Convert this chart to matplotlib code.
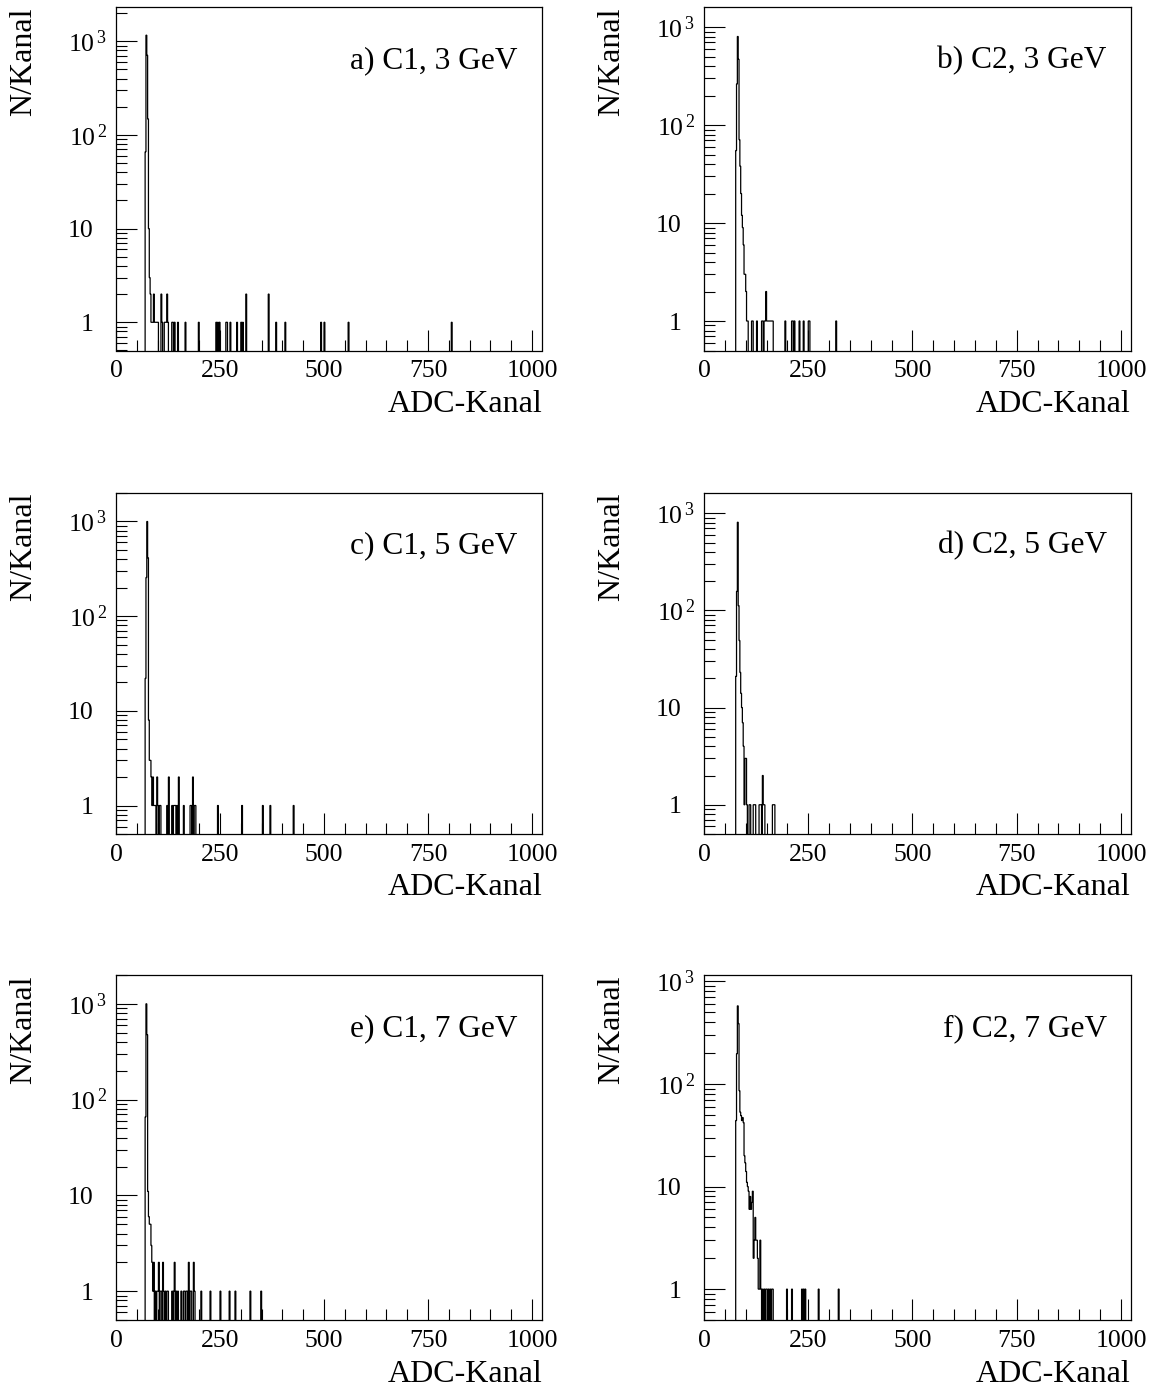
import numpy as np
import matplotlib
matplotlib.use("Agg")
import matplotlib.pyplot as plt
from matplotlib.ticker import LogLocator, MultipleLocator, FixedLocator, FuncFormatter, NullFormatter
from matplotlib.transforms import ScaledTranslation

plt.rcParams['font.family'] = ['Liberation Serif', 'DejaVu Serif']
plt.rcParams['mathtext.fontset'] = 'custom'
plt.rcParams['mathtext.rm'] = 'Liberation Serif'
plt.rcParams['mathtext.it'] = 'Liberation Serif:italic'
plt.rcParams['mathtext.bf'] = 'Liberation Serif:bold'

# ---------------- data (bin lower edge in ADC channels, entries) ----------------
BIN_WIDTH = 2
N_CHANNELS = 1024

a_channels = [70, 72, 74, 76, 78, 80, 82, 84, 86, 88, 90, 92, 94, 96, 98, 100, 108, 110, 116, 118,
              120, 122, 124, 134, 136, 140, 148, 166, 198, 240, 244, 248, 264, 266, 274, 290, 300,
              304, 312, 366, 384, 406, 492, 500, 558, 806]
a_counts = [66, 1160, 708, 148, 10, 3, 2, 1, 1, 1, 2, 1, 1, 1, 1, 1, 2, 1, 1, 1,
            1, 2, 1, 1, 1, 1, 1, 1, 1, 1, 1, 1, 1, 1, 1, 1, 1,
            1, 2, 2, 1, 1, 1, 1, 1, 1]

b_channels = [76, 78, 80, 82, 84, 86, 88, 90, 92, 94, 96, 98, 100, 102, 104, 114, 116, 126, 138, 140,
              144, 146, 148, 150, 152, 154, 156, 158, 160, 162, 164, 194, 210, 212, 216, 228, 238,
              250, 252, 316]
b_counts = [55, 263, 803, 470, 71, 38, 20, 12, 9, 6, 3, 3, 2, 1, 1, 1, 1, 1, 1, 1,
            1, 1, 2, 1, 1, 1, 1, 1, 1, 1, 1, 1, 1, 1, 1, 1, 1,
            1, 1, 1]

c_channels = [70, 72, 74, 76, 78, 80, 82, 84, 86, 88, 90, 92, 94, 98, 100, 104, 106, 122, 126, 134,
              138, 140, 142, 146, 150, 162, 178, 180, 184, 188, 190, 244, 302, 352, 370, 426]
c_counts = [22, 256, 1000, 413, 8, 3, 3, 2, 1, 2, 1, 1, 1, 2, 1, 1, 1, 1, 2, 1,
            1, 1, 1, 1, 2, 1, 1, 1, 2, 1, 1, 1, 1, 1, 1, 1]

d_channels = [76, 78, 80, 82, 84, 86, 88, 90, 92, 94, 96, 98, 100, 102, 108, 110, 118, 120, 122,
              132, 134, 136, 140, 142, 144, 164, 166, 168]
d_counts = [21, 157, 808, 112, 49, 23, 14, 10, 7, 4, 1, 3, 3, 1, 1, 1, 1, 1, 1,
            1, 1, 1, 2, 1, 1, 1, 1, 1]

e_channels = [70, 72, 74, 76, 78, 80, 82, 84, 86, 88, 90, 94, 98, 100, 102, 106, 108, 112, 114, 118,
              122, 124, 134, 138, 140, 144, 148, 156, 162, 164, 168, 170, 174, 178, 180, 186, 188,
              204, 226, 250, 272, 286, 322, 348]
e_counts = [66, 1000, 476, 11, 6, 5, 5, 3, 2, 1, 2, 1, 1, 1, 2, 1, 1, 2, 1, 1,
            1, 1, 1, 1, 2, 1, 1, 1, 1, 1, 1, 1, 2, 1, 1, 2, 1,
            1, 1, 1, 1, 1, 1, 1]

f_channels = [76, 78, 80, 82, 84, 86, 88, 90, 92, 94, 96, 98, 100, 102, 104, 106, 108, 110, 112, 114,
              116, 118, 120, 122, 124, 126, 128, 130, 132, 134, 136, 140, 144, 148, 150, 154, 158,
              162, 164, 198, 210, 234, 238, 242, 274, 322]
f_counts = [44, 197, 577, 388, 86, 53, 49, 44, 47, 42, 20, 17, 14, 11, 10, 9, 6, 8, 6, 7,
            9, 2, 3, 5, 3, 3, 2, 1, 1, 3, 1, 1, 1, 1, 1, 1, 1,
            1, 1, 1, 1, 1, 1, 1, 1, 1]

panel_titles = ["a) C1, 3 GeV", "b) C2, 3 GeV", "c) C1, 5 GeV",
                "d) C2, 5 GeV", "e) C1, 7 GeV", "f) C2, 7 GeV"]
x_tick_labels = ["0", "250", "500", "750", "1000"]
x_tick_values = [0, 250, 500, 750, 1000]
y_tick_values = [1, 10, 100, 1000]
y_tick_labels = ["1", "10", r"$10^{\,2}$", r"$10^{\,3}$"]
x_label = "ADC-Kanal"
y_label = "N/Kanal"

panels = [(a_channels, a_counts), (b_channels, b_counts), (c_channels, c_counts),
          (d_channels, d_counts), (e_channels, e_counts), (f_channels, f_counts)]

# ---------------- layout ----------------
W, H = 1158, 1389
fig = plt.figure(figsize=(W / 100, H / 100), dpi=100)

col_left = [116, 704]
col_width = [426, 427]
row_top = [7, 493, 975]
row_bottom = [350.5, 834, 1320]

edges = np.arange(0, N_CHANNELS + BIN_WIDTH, BIN_WIDTH)
ylab_map = dict(zip(y_tick_values, y_tick_labels))
sup_shift = ScaledTranslation(13 / 100, 0, fig.dpi_scale_trans)

for i, ((chs, cnts), title) in enumerate(zip(panels, panel_titles)):
    r, c = divmod(i, 2)
    left = col_left[c] / W
    width = col_width[c] / W
    bottom = 1 - row_bottom[r] / H
    height = (row_bottom[r] - row_top[r]) / H
    ax = fig.add_axes([left, bottom, width, height])

    hist = np.zeros(len(edges) - 1)
    idx = np.asarray(chs) // BIN_WIDTH
    hist[idx] = cnts
    vals = np.where(hist > 0, hist, 1e-3)
    ax.stairs(vals, edges, baseline=1e-3, color='black', linewidth=0.9)

    ax.set_yscale('log')
    ymax = 2.0 * max(cnts)
    ax.set_ylim(0.5, ymax)
    ax.set_xlim(0, N_CHANNELS)

    ax.yaxis.set_major_locator(FixedLocator(y_tick_values))
    ax.yaxis.set_major_formatter(FuncFormatter(lambda v, p: ylab_map.get(int(round(v)), "")))
    ax.yaxis.set_minor_locator(LogLocator(base=10, subs=np.arange(2, 10), numticks=20))
    ax.yaxis.set_minor_formatter(NullFormatter())

    ax.xaxis.set_major_locator(FixedLocator(x_tick_values))
    ax.set_xticklabels(x_tick_labels)
    ax.xaxis.set_minor_locator(MultipleLocator(50))

    ax.tick_params(which='both', direction='in', top=False, right=False, width=0.8, colors='black')
    ax.tick_params(which='major', length=15)
    ax.tick_params(which='minor', length=8)
    ax.tick_params(axis='x', which='major', labelsize=18.5, pad=7)
    ax.tick_params(axis='y', which='major', labelsize=18.5, pad=16)

    for s in ax.spines.values():
        s.set_linewidth(0.9)

    ax.set_xlabel(x_label, fontsize=23, loc='right')
    ax.xaxis.set_label_coords(1.0, -0.115)
    ax.set_ylabel(y_label, fontsize=23, loc='top')
    ax.yaxis.set_label_coords(-0.183, 1.0)

    ax.text(0.943, 0.822, title, transform=ax.transAxes, ha='right', va='baseline', fontsize=22.6)

    # superscripted labels: let the exponent overhang to the right like the original
    for tick, val in zip(ax.yaxis.get_major_ticks(len(y_tick_values)), y_tick_values):
        if val >= 100:
            tick.label1.set_transform(tick.label1.get_transform() + sup_shift)

fig.savefig("out.png", dpi=100)
